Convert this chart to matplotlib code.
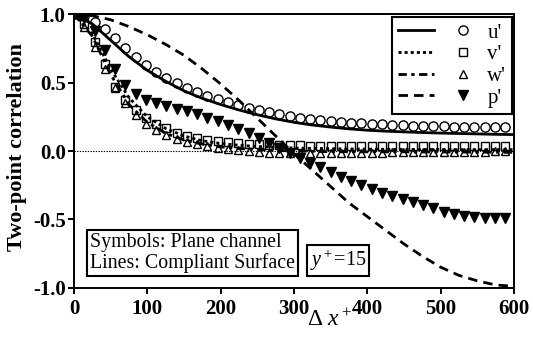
import matplotlib
matplotlib.use("Agg")
import matplotlib.pyplot as plt
from matplotlib.legend_handler import HandlerTuple

# separation Delta x+ of the compliant-surface curves
dx_lines = [0, 25, 50, 75, 100, 125, 150, 175, 200, 225, 250, 275, 300,
	325, 350, 375, 400, 425, 450, 475, 500, 525, 550, 575, 600]
u_lines = [1.0, 0.93, 0.81, 0.69, 0.59, 0.51, 0.44, 0.385, 0.34, 0.30, 0.265, 0.235, 0.21,
	0.19, 0.175, 0.162, 0.152, 0.145, 0.14, 0.135, 0.131, 0.128, 0.125, 0.122, 0.12]
v_lines = [1.0, 0.86, 0.60, 0.39, 0.25, 0.165, 0.11, 0.075, 0.055, 0.042, 0.033, 0.027, 0.022,
	0.019, 0.017, 0.015, 0.014, 0.013, 0.012, 0.011, 0.011, 0.010, 0.010, 0.010, 0.010]
w_lines = [1.0, 0.84, 0.56, 0.34, 0.21, 0.13, 0.08, 0.05, 0.03, 0.018, 0.01, 0.004, 0.0,
	-0.003, -0.005, -0.006, -0.006, -0.006, -0.006, -0.007, -0.007, -0.008, -0.008, -0.009, -0.01]
p_lines = [1.0, 0.99, 0.96, 0.91, 0.85, 0.78, 0.70, 0.60, 0.49, 0.37, 0.24, 0.11, -0.02,
	-0.14, -0.26, -0.38, -0.48, -0.58, -0.68, -0.77, -0.85, -0.91, -0.95, -0.98, -0.99]

# plane channel grid points
dx_symbols = [0, 14, 28, 42, 56, 70, 84, 98, 112, 126, 140, 154, 168, 182, 196,
	210, 224, 238, 252, 266, 280, 294, 308, 322, 336, 350, 364, 378, 392, 406,
	420, 434, 448, 462, 476, 490, 504, 518, 532, 546, 560, 574, 588]
u_symbols = [1.0, 0.985, 0.945, 0.89, 0.83, 0.75, 0.685, 0.63, 0.58, 0.535, 0.495, 0.46, 0.43, 0.40, 0.378,
	0.355, 0.335, 0.316, 0.30, 0.285, 0.27, 0.255, 0.243, 0.233, 0.225, 0.218, 0.212, 0.207, 0.202, 0.198,
	0.195, 0.192, 0.189, 0.186, 0.184, 0.182, 0.18, 0.179, 0.178, 0.177, 0.176, 0.175, 0.175]
v_symbols = [1.0, 0.93, 0.80, 0.64, 0.47, 0.37, 0.30, 0.245, 0.20, 0.165, 0.135, 0.11, 0.095, 0.082, 0.072,
	0.064, 0.058, 0.054, 0.05, 0.047, 0.045, 0.043, 0.041, 0.04, 0.039, 0.038, 0.038, 0.037, 0.037, 0.036,
	0.036, 0.036, 0.035, 0.035, 0.035, 0.035, 0.035, 0.035, 0.035, 0.035, 0.035, 0.035, 0.035]
w_symbols = [1.0, 0.91, 0.76, 0.60, 0.46, 0.35, 0.26, 0.20, 0.155, 0.12, 0.09, 0.068, 0.05, 0.035, 0.022,
	0.012, 0.004, -0.003, -0.008, -0.012, -0.015, -0.017, -0.018, -0.018, -0.017, -0.016, -0.015, -0.014, -0.013, -0.012,
	-0.011, -0.01, -0.009, -0.008, -0.007, -0.006, -0.006, -0.005, -0.005, -0.004, -0.004, -0.003, -0.003]
p_symbols = [1.0, 0.97, 0.88, 0.74, 0.60, 0.48, 0.415, 0.375, 0.35, 0.33, 0.31, 0.29, 0.268, 0.245, 0.218,
	0.19, 0.16, 0.13, 0.098, 0.06, 0.022, -0.015, -0.05, -0.085, -0.12, -0.155, -0.19, -0.222, -0.252, -0.28,
	-0.305, -0.33, -0.352, -0.375, -0.397, -0.42, -0.443, -0.462, -0.478, -0.486, -0.49, -0.492, -0.492]

components = ["u'", "v'", "w'", "p'"]
y_ticks = [-1.0, -0.5, 0.0, 0.5, 1.0]
x_ticks = [0, 100, 200, 300, 400, 500, 600]


def plot_correlation(plot_filename):
	plt.rcParams['font.family'] = ['Liberation Serif', 'DejaVu Serif']
	plt.rcParams['mathtext.fontset'] = 'custom'
	plt.rcParams['mathtext.rm'] = 'Liberation Serif'
	plt.rcParams['mathtext.it'] = 'Liberation Serif:italic'
	plt.rcParams['axes.unicode_minus'] = False

	fig = plt.figure(figsize = (5.33, 3.43), dpi = 100)
	ax = fig.add_axes([0.1388, 0.1612, 0.8256, 0.7971])

	ax.axhline(0.0, color = 'black', lw = 0.8, ls = (0, (1.2, 1.2)), zorder = 1)

	lw = 2.0
	line_styles = ['-', (0, (1.1, 1.1)), (0, (3, 1.6, 1.2, 1.6)), (0, (3.4, 2.2))]
	markers = [
		dict(marker = 'o', ms = 6.6, mfc = 'none'),
		dict(marker = 's', ms = 5.6, mfc = 'none'),
		dict(marker = '^', ms = 6.4, mfc = 'none'),
		dict(marker = 'v', ms = 6.6, mfc = 'black'),
	]
	line_data = [u_lines, v_lines, w_lines, p_lines]
	symbol_data = [u_symbols, v_symbols, w_symbols, p_symbols]

	handles = []
	for style, marker, ys_line, ys_sym in zip(line_styles, markers, line_data, symbol_data):
		line, = ax.plot(dx_lines, ys_line, color = 'black', lw = lw, ls = style,
			dash_capstyle = 'butt', zorder = 2)
		sym, = ax.plot(dx_symbols, ys_sym, ls = 'none', color = 'black', mec = 'black',
			mew = 1.0, zorder = 3, **marker)
		handles.append((line, sym))

	leg = ax.legend(handles, components, loc = 'upper right',
		bbox_to_anchor = (1 - 2 / 440, 1 - 3 / 273.4), borderaxespad = 0,
		handler_map = {tuple: HandlerTuple(ndivide = None, pad = 0.5)},
		handlelength = 4.0, handletextpad = 0.3, borderpad = 0.28, labelspacing = 0.1,
		fontsize = 15, fancybox = False, edgecolor = 'black', framealpha = 1)
	leg.get_frame().set_linewidth(1.5)

	ax.set_xlim(0, 600)
	ax.set_ylim(-1.0, 1.0)
	ax.set_xticks(x_ticks)
	ax.set_xticklabels([str(t) for t in x_ticks])
	ax.set_yticks(y_ticks)
	ax.set_yticklabels(['%.1f' % t for t in y_ticks])
	ax.tick_params(direction = 'out', length = 4, width = 1.4, labelsize = 15, pad = 2)
	ax.tick_params(axis = 'x', pad = 4)
	for label in ax.get_xticklabels() + ax.get_yticklabels():
		label.set_fontweight('bold')
	for spine in ax.spines.values():
		spine.set_linewidth(1.4)

	fig.text(17 / 533, 1 - 147 / 343, 'Two-point correlation', rotation = 90,
		ha = 'center', va = 'center', fontsize = 16, fontweight = 'bold')
	fig.text(330 / 533, 1 - 320 / 343, r'$\Delta\ x^+$', ha = 'center', va = 'center', fontsize = 17)

	box = dict(boxstyle = 'square,pad=0.15', facecolor = 'white', edgecolor = 'black', lw = 1.5)
	ax.text((90 - 74) / 440, (288 - 253) / 273.4, 'Symbols: Plane channel\nLines: Compliant Surface',
		transform = ax.transAxes, ha = 'left', va = 'center', fontsize = 14.3,
		linespacing = 1.1, bbox = box)
	ax.text((338 - 74) / 440, (288 - 261) / 273.4, r'$y^+$=15', transform = ax.transAxes,
		ha = 'center', va = 'center', fontsize = 14.5, bbox = box)

	fig.savefig(plot_filename, dpi = 100)


if __name__ == "__main__":
	plot_correlation('out.png')
